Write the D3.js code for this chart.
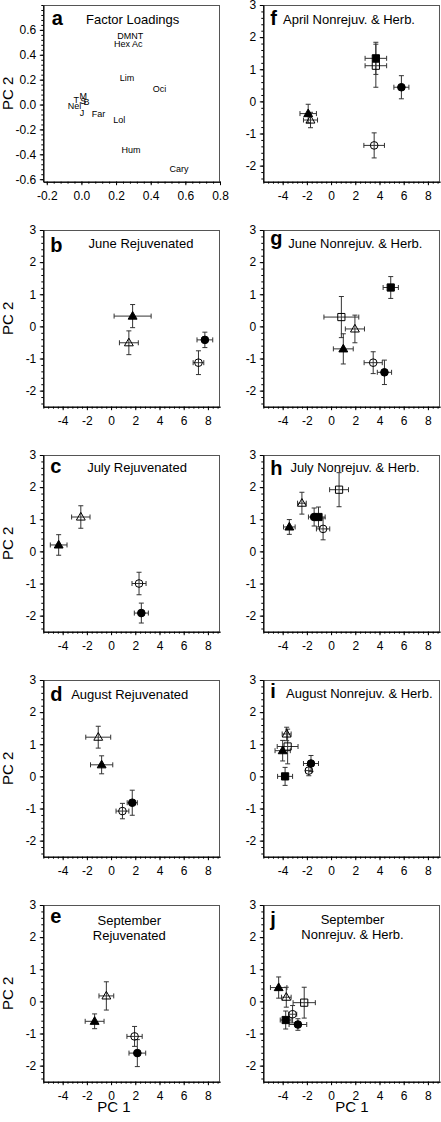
<!DOCTYPE html>
<html><head><meta charset="utf-8">
<script src="https://cdn.jsdelivr.net/npm/d3@7"></script>
<style>
body{margin:0;background:#fff}
svg{display:block}
text{font-family:"Liberation Sans",Arial,sans-serif;fill:#000}
</style>
</head><body>
<svg id="c" width="441" height="1122"></svg>
<script>
// ---------- DATA ----------
// Factor loadings (panel a)
const loadingLabels = ["DMNT","Hex Ac","Lim","Oci","Lol","Far","Hum","Cary","M","T","S","B","Nel","J"];
const loadingPC1    = [0.282, 0.270, 0.263, 0.451, 0.219, 0.099, 0.286, 0.564, 0.011, -0.030, 0.010, 0.029, -0.040, 0.004];
const loadingPC2    = [0.551, 0.485, 0.217, 0.127, -0.124, -0.072, -0.368, -0.514, 0.069, 0.040, 0.029, 0.019, -0.013, -0.066];
const loadXTicks = [-0.2, 0.0, 0.2, 0.4, 0.6, 0.8];
const loadYTicks = [-0.6, -0.4, -0.2, 0.0, 0.2, 0.4, 0.6];

// Score panels: [symbol, PC1, PC2, PC1 error, PC2 error]
// FC filled circle, OC open circle, FT filled triangle, OT open triangle, FS filled square, OS open square
const juneRejuvenated = [
  ["FT", 1.78, 0.32, 1.53, 0.36], ["OT", 1.47, -0.51, 0.78, 0.37],
  ["FC", 7.75, -0.42, 0.65, 0.24], ["OC", 7.22, -1.13, 0.44, 0.37]];
const julyRejuvenated = [
  ["OT", -2.50, 1.07, 0.76, 0.35], ["FT", -4.33, 0.20, 0.69, 0.32],
  ["OC", 2.31, -1.00, 0.58, 0.35], ["FC", 2.50, -1.92, 0.58, 0.31]];
const augustRejuvenated = [
  ["OT", -1.06, 1.22, 1.03, 0.34], ["FT", -0.78, 0.36, 0.92, 0.28],
  ["OC", 0.94, -1.08, 0.53, 0.24], ["FC", 1.75, -0.82, 0.42, 0.39]];
const septemberRejuvenated = [
  ["OT", -0.39, 0.17, 0.61, 0.44], ["FT", -1.36, -0.62, 0.78, 0.23],
  ["OC", 1.94, -1.09, 0.63, 0.31], ["FC", 2.17, -1.61, 0.69, 0.42]];
const aprilNonrejuv = [
  ["FS", 3.70, 1.34, 0.89, 0.50], ["OS", 3.70, 1.11, 0.89, 0.67],
  ["FC", 5.81, 0.44, 0.62, 0.36], ["FT", -1.89, -0.38, 0.68, 0.29],
  ["OT", -1.70, -0.58, 0.58, 0.24], ["OC", 3.56, -1.37, 0.85, 0.39]];
const juneNonrejuv = [
  ["FS", 4.93, 1.21, 0.63, 0.34], ["OS", 0.85, 0.29, 1.44, 0.64],
  ["OT", 1.97, -0.08, 0.79, 0.43], ["FT", 1.01, -0.70, 0.82, 0.47],
  ["OC", 3.48, -1.13, 0.75, 0.34], ["FC", 4.41, -1.43, 0.59, 0.38]];
const julyNonrejuv = [
  ["OS", 0.66, 1.92, 0.78, 0.53], ["OT", -2.41, 1.50, 0.36, 0.34],
  ["FT", -3.45, 0.76, 0.48, 0.23], ["FC", -1.40, 1.07, 0.47, 0.28],
  ["FS", -1.04, 1.07, 0.55, 0.31], ["OC", -0.66, 0.70, 0.55, 0.34]];
const augustNonrejuv = [
  ["OT", -3.67, 1.32, 0.37, 0.21], ["OS", -3.59, 0.93, 0.86, 0.54],
  ["FT", -4.00, 0.80, 0.63, 0.32], ["FS", -3.80, 0.00, 0.62, 0.28],
  ["OC", -1.84, 0.18, 0.27, 0.16], ["FC", -1.66, 0.40, 0.62, 0.25]];
const septemberNonrejuv = [
  ["FT", -4.33, 0.43, 0.68, 0.33], ["OT", -3.70, 0.13, 0.40, 0.31],
  ["OS", -2.22, -0.04, 0.92, 0.48], ["OC", -3.18, -0.40, 0.34, 0.27],
  ["FS", -3.75, -0.58, 0.45, 0.28], ["FC", -2.74, -0.72, 0.73, 0.18]];
const scoreXTicks = [-4, -2, 0, 2, 4, 6, 8];
const scoreYTicks = [-2, -1, 0, 1, 2, 3];

// ---------- LAYOUT ----------
const svg = d3.select("#c");
const colX = [43.3, 263.3], rowY = [5, 230, 455, 680, 905];
const PW = 176.7, PH = 176.7;

function range(a, b, s) { const r = []; for (let v = a; v <= b + 1e-9; v += s) r.push(+v.toFixed(4)); return r; }

function drawFrame(g, x, y, xt, yt, xm, ym, fmt) {
  g.append("line").attr("x1", 0).attr("x2", PW).attr("y1", 0.5).attr("y2", 0.5).attr("stroke", "#555");
  g.append("line").attr("x1", PW - 0.5).attr("x2", PW - 0.5).attr("y1", 0).attr("y2", PH).attr("stroke", "#555");
  const bx = g.append("g").attr("transform", `translate(0,${PH})`);
  bx.call(d3.axisBottom(x).tickValues(xm).tickSize(2).tickFormat("").tickSizeOuter(0));
  bx.append("g").call(d3.axisBottom(x).tickValues(xt).tickSize(3.5).tickPadding(6).tickFormat(fmt).tickSizeOuter(0));
  const ly = g.append("g");
  ly.call(d3.axisLeft(y).tickValues(ym).tickSize(2).tickFormat("").tickSizeOuter(0));
  ly.append("g").call(d3.axisLeft(y).tickValues(yt).tickSize(3.5).tickPadding(3.5).tickFormat(fmt).tickSizeOuter(0));
  g.selectAll(".domain").attr("stroke", "#000");
  g.selectAll(".tick line").attr("stroke", "#000");
  g.selectAll(".tick text").attr("font-size", 12).attr("font-family", '"Liberation Sans",Arial,sans-serif').attr("fill", "#000");
}

function panelG(col, row) {
  return svg.append("g").attr("transform", `translate(${colX[col]},${rowY[row]})`);
}

function addLetter(g, letter, dx, dy) {
  g.append("text").attr("x", dx).attr("y", dy).attr("font-size", 20).attr("font-weight", "bold").text(letter);
}
function addTitle(g, lines, cx, y0, lh) {
  lines.forEach((t, i) => g.append("text").attr("x", cx).attr("y", y0 + i * lh)
    .attr("text-anchor", "middle").attr("font-size", 13).text(t));
}

// ---------- PANEL a ----------
{
  const g = panelG(0, 0);
  const x = d3.scaleLinear().domain([-0.22, 0.8]).range([0, PW]);
  const y = d3.scaleLinear().domain([-0.62, 0.8]).range([PH, 0]);
  drawFrame(g, x, y, loadXTicks, loadYTicks, range(-0.2, 0.8, 0.04), range(-0.6, 0.8, 0.04), d => d.toFixed(1));
  g.selectAll("text.lab").data(loadingLabels).join("text").attr("class", "lab")
    .attr("x", (d, i) => x(loadingPC1[i])).attr("y", (d, i) => y(loadingPC2[i]))
    .attr("dy", "0.35em").attr("text-anchor", "middle").attr("font-size", 9).text(d => d);
  addLetter(g, "a", 8.4, 20);
  addTitle(g, ["Factor Loadings"], 89.4, 18.5, 0);
}

// ---------- SCORE PANELS ----------
const panels = [
  {col: 0, row: 1, letter: "b", data: juneRejuvenated, title: ["June Rejuvenated"], tx: 97.7, ty: 17.7, ly: 21.7},
  {col: 0, row: 2, letter: "c", data: julyRejuvenated, title: ["July Rejuvenated"], tx: 93.7, ty: 16.5, ly: 18.3},
  {col: 0, row: 3, letter: "d", data: augustRejuvenated, title: ["August Rejuvenated"], tx: 86.4, ty: 19.3, ly: 20.7},
  {col: 0, row: 4, letter: "e", data: septemberRejuvenated, title: ["September", "Rejuvenated"], tx: 86, ty: 20, ly: 18.3},
  {col: 1, row: 0, letter: "f", data: aprilNonrejuv, title: ["April Nonrejuv. & Herb."], tx: 85.7, ty: 18.5, ly: 20},
  {col: 1, row: 1, letter: "g", data: juneNonrejuv, title: ["June Nonrejuv. & Herb."], tx: 92, ty: 18.3, ly: 14.5},
  {col: 1, row: 2, letter: "h", data: julyNonrejuv, title: ["July Nonrejuv. & Herb."], tx: 91.7, ty: 16.7, ly: 20},
  {col: 1, row: 3, letter: "i", data: augustNonrejuv, title: ["August Nonrejuv. & Herb."], tx: 96, ty: 18.3, ly: 18.3},
  {col: 1, row: 4, letter: "j", data: septemberNonrejuv, title: ["September", "Nonrejuv. & Herb."], tx: 89.2, ty: 18.5, ly: 21}
];

const symType = {C: d3.symbolCircle, T: d3.symbolTriangle, S: d3.symbolSquare};
const symSize = {C: 46, T: 34, S: 52};
const cap = 2.5, barColor = "#333";

panels.forEach(p => {
  const g = panelG(p.col, p.row);
  const x = d3.scaleLinear().domain([-5.6, 9]).range([0, PW]);
  const y = d3.scaleLinear().domain([-2.5, 3]).range([PH, 0]);
  drawFrame(g, x, y, scoreXTicks, scoreYTicks, range(-5.6, 8.8, 0.4), range(-2.4, 3, 0.2), d => String(d));
  const pts = g.append("g");
  p.data.forEach(d => {
    const [s, px, py, ex, ey] = d;
    const cx = x(px), cy = y(py);
    const b = pts.append("g").attr("stroke", barColor).attr("stroke-width", 1).attr("fill", "none");
    b.append("line").attr("x1", x(px - ex)).attr("x2", x(px + ex)).attr("y1", cy).attr("y2", cy);
    b.append("line").attr("x1", x(px - ex)).attr("x2", x(px - ex)).attr("y1", cy - cap).attr("y2", cy + cap);
    b.append("line").attr("x1", x(px + ex)).attr("x2", x(px + ex)).attr("y1", cy - cap).attr("y2", cy + cap);
    b.append("line").attr("x1", cx).attr("x2", cx).attr("y1", y(py - ey)).attr("y2", y(py + ey));
    b.append("line").attr("x1", cx - cap).attr("x2", cx + cap).attr("y1", y(py - ey)).attr("y2", y(py - ey));
    b.append("line").attr("x1", cx - cap).attr("x2", cx + cap).attr("y1", y(py + ey)).attr("y2", y(py + ey));
  });
  p.data.forEach(d => {
    const [s, px, py] = d;
    const filled = s[0] === "F", shape = s[1];
    pts.append("path").attr("d", d3.symbol().type(symType[shape]).size(symSize[shape])())
      .attr("transform", `translate(${x(px)},${y(py) + (shape === "T" ? 0.5 : 0)})`)
      .attr("fill", filled ? "#000" : "none").attr("stroke", "#000").attr("stroke-width", 1);
  });
  addLetter(g, p.letter, 7, p.ly);
  addTitle(g, p.title, p.tx, p.ty, 15);
});

// ---------- AXIS TITLES ----------
rowY.forEach(r => {
  svg.append("text").attr("transform", `translate(12.5,${r + PH / 2}) rotate(-90)`)
    .attr("text-anchor", "middle").attr("font-size", 15).text("PC 2");
});
svg.append("text").attr("x", 114).attr("y", 1112).attr("text-anchor", "middle").attr("font-size", 15).text("PC 1");
svg.append("text").attr("x", 352).attr("y", 1112).attr("text-anchor", "middle").attr("font-size", 15).text("PC 1");
</script>
</body></html>
